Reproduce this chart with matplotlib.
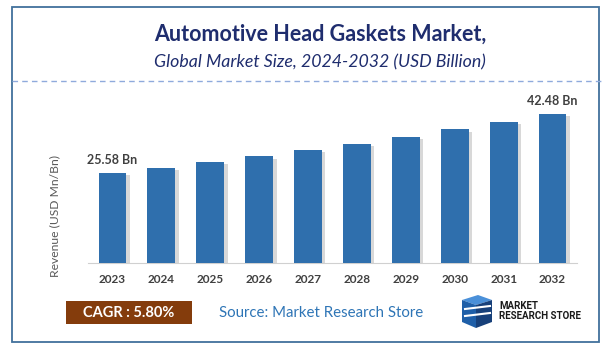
import matplotlib
matplotlib.use("Agg")
import matplotlib.pyplot as plt
import matplotlib.patheffects as pe
from matplotlib.patches import Rectangle, Polygon
from matplotlib.lines import Line2D

# data
years = ["2023", "2024", "2025", "2026", "2027", "2028", "2029", "2030", "2031", "2032"]
revenue = [25.58, 27.06, 28.63, 30.29, 32.05, 33.91, 35.87, 37.95, 40.15, 42.48]
shown_labels = {0: "25.58 Bn", 9: "42.48 Bn"}
title = "Automotive Head Gaskets Market,"
subtitle = "Global Market Size, 2024-2032 (USD Billion)"
cagr_text = "CAGR : 5.80%"
source_text = "Source: Market Research Store"

W, H = 616, 354
fig = plt.figure(figsize=(W / 100, H / 100), dpi=100)
fig.patch.set_facecolor("white")

def fx(px):
    return px / W

def fy(py):
    return 1 - py / H

# outer frame
fig.add_artist(Rectangle((fx(12), fy(342)), fx(599) - fx(12), fy(7) - fy(342),
                         transform=fig.transFigure, fill=False,
                         edgecolor="#41719c", linewidth=1.3))
# dashed separator
fig.add_artist(Line2D([fx(12), fx(601)], [fy(81), fy(81)], transform=fig.transFigure,
                      color="#8faadc", linewidth=1.0, linestyle=(0, (4, 3))))

fig.text(fx(320), fy(34), title, ha="center", va="center", fontsize=15.5,
         fontweight="bold", color="#1f2d6e", family="Lato")
fig.text(fx(320), fy(62), subtitle, ha="center", va="center", fontsize=12.8,
         fontstyle="italic", color="#1f2d6e", family="Lato")

# chart area
ax = fig.add_axes([fx(88), fy(263), fx(577) - fx(88), fy(95) - fy(263)])
x = list(range(len(years)))
bars = ax.bar(x, revenue, width=0.57, color="#2f6fad", zorder=3)
for b in bars:
    b.set_path_effects([pe.SimplePatchShadow(offset=(2.5, -1.5), shadow_rgbFace="#808080", alpha=0.3),
                        pe.Normal()])
ax.set_xlim(-0.5, len(years) - 0.5)
ax.set_ylim(0, 168 * 25.58 / 90)
ax.set_xticks(x)
ax.set_xticklabels(years, fontsize=8.5, fontweight="bold", color="#404040", family="Lato")
ax.tick_params(axis="x", length=0, pad=8)
ax.set_yticks([])
for s in ["top", "right", "left"]:
    ax.spines[s].set_visible(False)
ax.spines["bottom"].set_color("#d0d0d0")
ax.set_facecolor("none")

for i, lab in shown_labels.items():
    ax.annotate(lab, (x[i], revenue[i]), xytext=(0, 5), textcoords="offset points",
                ha="center", va="bottom", fontsize=9, fontweight="bold",
                color="#404040", family="Lato")

fig.text(fx(55), fy(216), "Revenue (USD Mn/Bn)", rotation=90, ha="center", va="center",
         fontsize=8.7, color="#595959", family="Lato")

# footer
fig.add_artist(Rectangle((fx(66), fy(324)), fx(192) - fx(66), fy(301) - fy(324),
                         transform=fig.transFigure, facecolor="#843c0c", edgecolor="none"))
fig.text(fx(129), fy(313), cagr_text, ha="center", va="center", fontsize=10.5,
         fontweight="bold", color="white", family="Lato")
fig.text(fx(219), fy(313), source_text, ha="left", va="center", fontsize=10.8,
         color="#2e75b6", family="Lato")

# logo (simplified)
logo_shapes = [
    [(462, 300), (478, 295), (492, 300), (476, 305)],
    [(462, 300), (476, 305), (476, 328), (462, 322)],
    [(476, 305), (492, 300), (492, 322), (476, 328)],
]
logo_cols = ["#4a90d9", "#1f5fa8", "#17407a"]
for pts, c in zip(logo_shapes, logo_cols):
    fig.add_artist(Polygon([(fx(a), fy(b)) for a, b in pts], closed=True,
                           transform=fig.transFigure, facecolor=c, edgecolor="none"))
for yy in (309, 316):
    fig.add_artist(Line2D([fx(465), fx(490)], [fy(yy), fy(yy - 3)], transform=fig.transFigure,
                          color="white", linewidth=1.5))
fig.text(fx(499), fy(306), "MARKET", ha="left", va="center", fontsize=7,
         fontweight="bold", color="#1a1a1a", family="Roboto")
fig.text(fx(499), fy(316), "RESEARCH STORE", ha="left", va="center", fontsize=7,
         fontweight="bold", color="#1a1a1a", family="Roboto")

fig.savefig("out.png", dpi=100, facecolor="white")
